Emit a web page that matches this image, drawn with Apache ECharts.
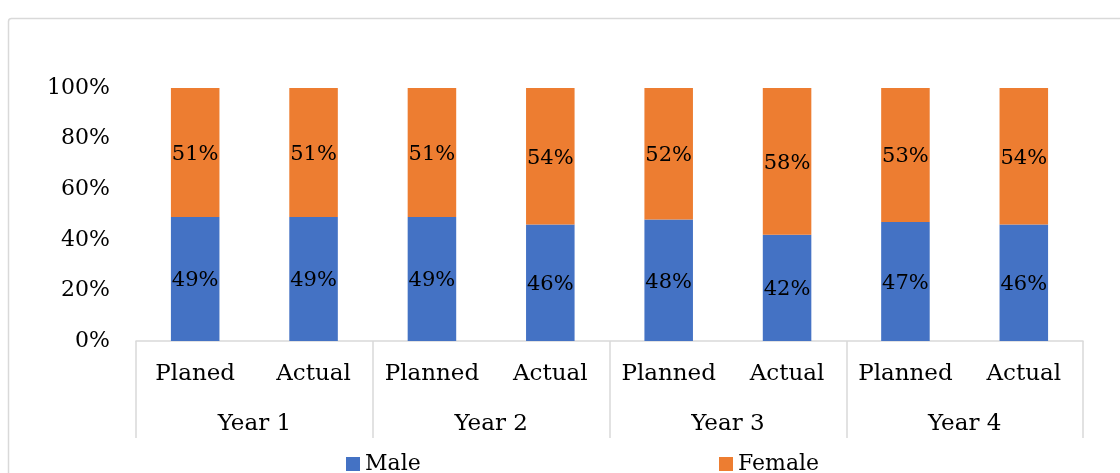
<!DOCTYPE html>
<html>
<head>
<meta charset="utf-8">
<script src="https://cdn.jsdelivr.net/npm/echarts@6/dist/echarts.min.js"></script>
<style>
  html, body { margin: 0; padding: 0; background: #fff; }
  #chart { width: 1120px; height: 473px; }
</style>
</head>
<body>
<div id="chart"></div>
<script>
// Planned vs actual gender split per year (percent of participants)
const phases = ['Planed', 'Actual', 'Planned', 'Actual', 'Planned', 'Actual', 'Planned', 'Actual'];
const years = ['Year 1', 'Year 2', 'Year 3', 'Year 4'];
const male = [49, 49, 49, 46, 48, 42, 47, 46];
const female = [51, 51, 51, 54, 52, 58, 53, 54];
const yTicks = [0, 20, 40, 60, 80, 100];

const FONT = '"DejaVu Serif", "Liberation Serif", serif';
const TEXT = '#000000';
const LINE = '#d9d9d9';

const chart = echarts.init(document.getElementById('chart'), null, { renderer: 'canvas' });

const pctLabel = {
  show: true,
  position: 'inside',
  formatter: p => p.value + '%',
  color: TEXT,
  fontFamily: FONT,
  fontSize: 21,
  offset: [0, 2]
};

const legendBase = {
  icon: 'rect', itemWidth: 14, itemHeight: 14, itemGap: 6,
  textStyle: { fontFamily: FONT, fontSize: 22, color: TEXT }
};

chart.setOption({
  animation: false,
  backgroundColor: '#ffffff',
  textStyle: { fontFamily: FONT, color: TEXT },
  graphic: [{
    type: 'rect',
    shape: { x: 8.5, y: 18.5, width: 1300, height: 700, r: 3 },
    style: { fill: 'none', stroke: LINE, lineWidth: 1.5 },
    silent: true,
    z: -10
  }],
  legend: [
    Object.assign({ data: ['Male'], left: 341, top: 448 }, legendBase),
    Object.assign({ data: ['Female'], left: 714, top: 448 }, legendBase)
  ],
  grid: { left: 136, right: 37, top: 88, bottom: 132, containLabel: false },
  xAxis: [
    {
      type: 'category',
      data: phases,
      position: 'bottom',
      axisLine: { show: true, lineStyle: { color: LINE, width: 1.5 } },
      axisTick: { show: false },
      axisLabel: { interval: 0, margin: 22, fontFamily: FONT, fontSize: 23, color: TEXT }
    },
    {
      type: 'category',
      data: years,
      position: 'bottom',
      axisLine: { show: false },
      axisTick: { show: true, length: 97, lineStyle: { color: LINE, width: 1.5 } },
      axisLabel: { interval: 0, margin: 72, fontFamily: FONT, fontSize: 23, color: TEXT }
    }
  ],
  yAxis: {
    type: 'value',
    min: yTicks[0],
    max: yTicks[yTicks.length - 1],
    interval: yTicks[1] - yTicks[0],
    axisLine: { show: false },
    axisTick: { show: false },
    splitLine: { show: false },
    axisLabel: { formatter: v => v + '%', margin: 26, fontFamily: FONT, fontSize: 22, color: TEXT }
  },
  series: [
    {
      name: 'Male',
      type: 'bar',
      stack: 'total',
      xAxisIndex: 0,
      data: male,
      barWidth: '41%',
      itemStyle: { color: '#4472C4' },
      label: pctLabel
    },
    {
      name: 'Female',
      type: 'bar',
      stack: 'total',
      xAxisIndex: 0,
      data: female,
      barWidth: '41%',
      itemStyle: { color: '#ED7D31' },
      label: pctLabel
    }
  ]
});
</script>
</body>
</html>
